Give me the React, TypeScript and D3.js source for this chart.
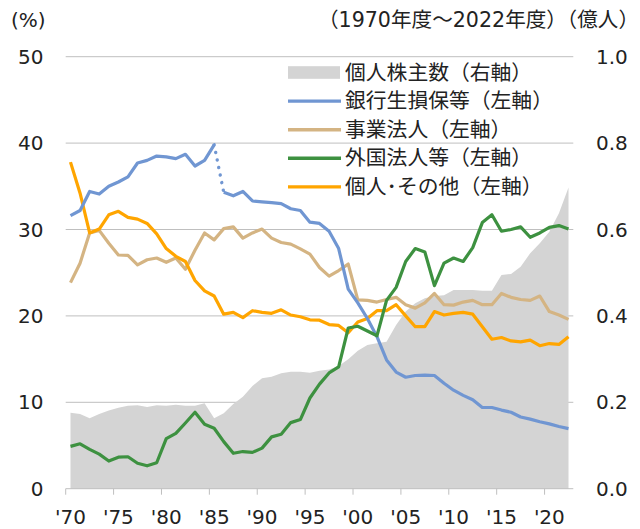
import * as d3 from "d3";

// 1970年度～2022年度
const years = d3.range(1970, 2023);

// 銀行生損保等 (%)
const bank = [
  31.6, 32.2, 34.4, 34.1, 35.0, 35.5, 36.1, 37.7, 38.0, 38.5,
  38.4, 38.2, 38.7, 37.35, 38.0, 39.8, 34.3, 33.9, 34.4, 33.3,
  33.2, 33.1, 33.0, 32.4, 32.2, 30.85, 30.7, 29.8, 27.8, 23.1,
  21.5, 19.7, 17.6, 14.9, 13.5, 12.9, 13.1, 13.15, 13.1, 12.2,
  11.4, 10.8, 10.3, 9.4, 9.4, 9.1, 8.85, 8.3, 8.05, 7.75,
  7.5, 7.2, 6.95,
];

// 事業法人 (%)
const corp = [
  23.85, 26.1, 29.6, 29.9, 28.4, 27.05, 27.0, 25.9, 26.5, 26.7,
  26.2, 26.7, 25.4, 27.6, 29.6, 28.8, 30.1, 30.3, 29.0, 29.6,
  30.05, 29.0, 28.5, 28.3, 27.75, 27.15, 25.6, 24.6, 25.25, 26.0,
  21.85, 21.8, 21.6, 21.9, 22.15, 21.3, 20.9, 21.5, 22.6, 21.3,
  21.25, 21.6, 21.8, 21.3, 21.3, 22.6, 22.15, 21.9, 21.8, 22.3,
  20.5, 20.1, 19.6,
];

// 外国法人等 (%)
const foreign = [
  4.9, 5.2, 4.55, 4.0, 3.2, 3.65, 3.7, 2.95, 2.65, 3.0,
  5.8, 6.4, 7.6, 8.85, 7.45, 7.0, 5.45, 4.1, 4.3, 4.2,
  4.7, 6.0, 6.3, 7.65, 8.0, 10.5, 12.1, 13.4, 14.1, 18.6,
  18.8, 18.25, 17.7, 21.8, 23.3, 26.3, 27.8, 27.4, 23.5, 26.1,
  26.7, 26.3, 27.9, 30.8, 31.7, 29.8, 30.0, 30.3, 29.1, 29.6,
  30.25, 30.45, 30.05,
];

// 個人・その他 (%)
const individual = [
  37.8, 34.2, 29.6, 30.05, 31.7, 32.1, 31.4, 31.2, 30.7, 29.5,
  27.8, 26.9, 26.3, 24.1, 22.9, 22.3, 20.2, 20.4, 19.8, 20.6,
  20.4, 20.3, 20.7, 20.1, 19.9, 19.55, 19.5, 19.0, 18.9, 18.05,
  19.3, 19.7, 20.6, 20.6, 21.3, 20.0, 18.75, 18.75, 20.5, 20.1,
  20.3, 20.4, 20.2, 18.75, 17.3, 17.5, 17.1, 17.0, 17.2, 16.55,
  16.8, 16.7, 17.6,
];

// 個人株主数 (億人)
const shareholders = [
  0.176, 0.173, 0.163, 0.173, 0.181, 0.1875, 0.192, 0.193, 0.189, 0.193,
  0.192, 0.1945, 0.192, 0.192, 0.198, 0.163, 0.1745, 0.196, 0.213, 0.238,
  0.2555, 0.259, 0.267, 0.271, 0.271, 0.2685, 0.273, 0.276, 0.284, 0.2995,
  0.3195, 0.3326, 0.3366, 0.34, 0.379, 0.41, 0.429, 0.4407, 0.446, 0.448,
  0.46, 0.46, 0.46, 0.458, 0.458, 0.4947, 0.497, 0.514, 0.545, 0.568,
  0.595, 0.6375, 0.697,
];

const leftTicks = [0, 10, 20, 30, 40, 50];
const rightTicks = [0, 0.2, 0.4, 0.6, 0.8, 1.0];
const xLabelYears = [1970, 1975, 1980, 1985, 1990, 1995, 2000, 2005, 2010, 2015, 2020];

const legendItems = [
  { label: "個人株主数（右軸）", color: "#d4d4d4", kind: "area" },
  { label: "銀行生損保等（左軸）", color: "#7096d2", kind: "line" },
  { label: "事業法人（左軸）", color: "#d4b483", kind: "line" },
  { label: "外国法人等（左軸）", color: "#3d9140", kind: "line" },
  { label: "個人･その他（左軸）", color: "#ffa500", kind: "line" },
];

const FONT = "'DejaVu Sans', 'Noto Sans CJK JP', sans-serif";

export default function App() {
  const left = 65.7;
  const right = 573.3;
  const bottom = 488.7;
  const top = 56.7;

  const x = d3.scaleLinear().domain([1969.5, 2022.5]).range([left, right]);
  const y = d3.scaleLinear().domain([0, 50]).range([bottom, top]);
  const y2 = d3.scaleLinear().domain([0, 1]).range([bottom, top]);

  const area = d3
    .area<number>()
    .x((_, i) => x(years[i]))
    .y0(y2(0))
    .y1((d) => y2(d));

  const lineFor = (vals: number[], from = 0) =>
    d3
      .line<number>()
      .x((_, i) => x(years[i + from]))
      .y((d) => y(d))(vals);

  const i85 = years.indexOf(1985);
  const i86 = years.indexOf(1986);

  const tickBounds = xLabelYears.map((yr) => yr - 0.5);
  const grid = "#bfbfbf";

  return (
    <svg
      width={640}
      height={529}
      style={{ position: "absolute", left: 0, top: 0, fontFamily: FONT }}
    >
      <rect width={640} height={529} fill="#fff" />

      {/* gridlines */}
      {leftTicks.slice(1).map((t) => (
        <line key={t} x1={left} x2={right} y1={y(t)} y2={y(t)} stroke={grid} strokeWidth={1} />
      ))}

      {/* 個人株主数 area */}
      <path d={area(shareholders) ?? ""} fill="#d4d4d4" />

      {/* x axis */}
      <line x1={left} x2={right} y1={bottom} y2={bottom} stroke={grid} strokeWidth={1} />
      {tickBounds.map((b) => (
        <line key={b} x1={x(b)} x2={x(b)} y1={bottom} y2={bottom + 6} stroke={grid} strokeWidth={1} />
      ))}

      {/* lines */}
      <path d={lineFor(corp) ?? ""} fill="none" stroke="#d4b483" strokeWidth={3.2} strokeLinejoin="round" />
      <path d={lineFor(individual) ?? ""} fill="none" stroke="#ffa500" strokeWidth={3.2} strokeLinejoin="round" />
      <path d={lineFor(bank.slice(0, i85 + 1)) ?? ""} fill="none" stroke="#7096d2" strokeWidth={3.2} strokeLinejoin="round" />
      <path
        d={lineFor(bank.slice(i85, i86 + 1), i85) ?? ""}
        fill="none"
        stroke="#7096d2"
        strokeWidth={3.4}
        strokeLinecap="round"
        strokeDasharray="0.1 7.6"
      />
      <path d={lineFor(bank.slice(i86), i86) ?? ""} fill="none" stroke="#7096d2" strokeWidth={3.2} strokeLinejoin="round" />
      <path d={lineFor(foreign) ?? ""} fill="none" stroke="#3d9140" strokeWidth={3.2} strokeLinejoin="round" />

      {/* left axis labels */}
      {leftTicks.map((t) => (
        <text key={t} x={43.5} y={y(t)} textAnchor="end" dominantBaseline="central" fontSize={20} fill="#222">
          {t}
        </text>
      ))}

      {/* right axis labels */}
      {rightTicks.map((t) => (
        <text key={t} x={596} y={y2(t)} textAnchor="start" dominantBaseline="central" fontSize={20} fill="#222">
          {d3.format(".1f")(t)}
        </text>
      ))}

      {/* x labels */}
      {xLabelYears.map((yr) => (
        <text key={yr} x={x(yr)} y={524} textAnchor="middle" fontSize={20} fill="#222">
          {"'" + String(yr).slice(2)}
        </text>
      ))}

      {/* units */}
      <text x={11} y={27} fontSize={20} fill="#222">(%)</text>
      <text x={639} y={27} textAnchor="end" fontSize={20.6} fill="#222">（1970年度～2022年度）（億人）</text>

      {/* legend */}
      {legendItems.map((item, i) => {
        const cy = 72.5 + i * 28.6;
        return (
          <g key={item.label}>
            {item.kind === "area" ? (
              <rect x={288} y={cy - 6.3} width={52} height={12.6} fill={item.color} />
            ) : (
              <line x1={288} x2={341} y1={cy} y2={cy} stroke={item.color} strokeWidth={3.4} />
            )}
            <text x={345} y={cy} dominantBaseline="central" fontSize={20.8} fill="#222">
              {item.label}
            </text>
          </g>
        );
      })}
    </svg>
  );
}
